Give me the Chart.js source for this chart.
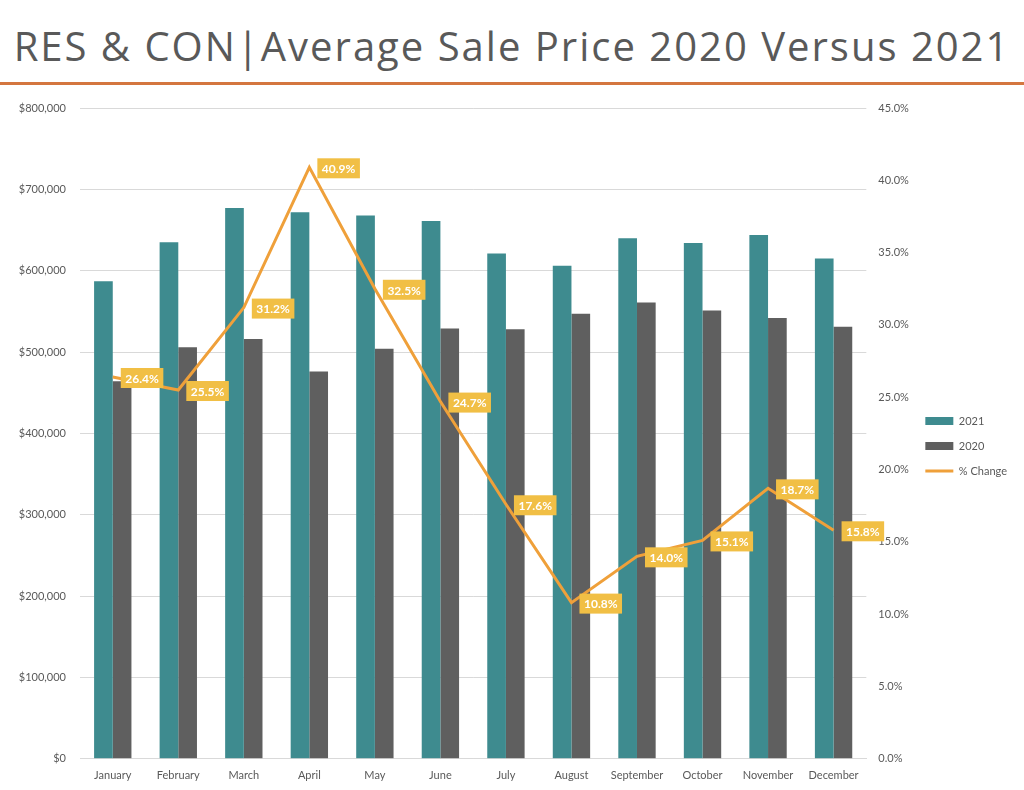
<!DOCTYPE html>
<html lang="en">
<head>
  <meta charset="UTF-8" />
  <title>RES &amp; CON | Average Sale Price 2020 Versus 2021</title>
  <script src="https://cdn.jsdelivr.net/npm/chart.js"></script>
  <style>
    body {
      margin: 0;
      background: #fff;
      width: 1024px;
      height: 790px;
      overflow: hidden;
    }
    .title {
      height: 82px;
      line-height: 92px;
      text-align: center;
      font-family: 'Open Sans', sans-serif;
      font-size: 40px;
      letter-spacing: 2px;
      color: #595959;
      white-space: nowrap;
    }
    .rule {
      height: 3px;
      background: #d4763f;
    }
    .wrap {
      position: relative;
      width: 1024px;
      height: 703px;
    }
  </style>
</head>
<body>
  <div class="title">RES &amp; CON|Average Sale Price 2020 Versus 2021</div>
  <div class="rule"></div>
  <div class="wrap">
    <canvas id="chartPrice"></canvas>
  </div>

  <script>
    const months = ["January", "February", "March", "April", "May", "June",
      "July", "August", "September", "October", "November", "December"];
    const price2021 = [587000, 635000, 677000, 672000, 668000, 661000, 621000, 606000, 640000, 634000, 644000, 615000];
    const price2020 = [464000, 506000, 516000, 476000, 504000, 529000, 528000, 547000, 561000, 551000, 542000, 531000];
    const pctChange = [26.4, 25.5, 31.2, 40.9, 32.5, 24.7, 17.6, 10.8, 14.0, 15.1, 18.7, 15.8];

    const teal = '#3e8b8f';
    const grey = '#5f5f5f';
    const orange = '#efa03a';
    const labelBox = '#f1bf45';
    const axisText = '#595959';

    // yellow boxes with % values, right of each point
    const pctLabels = {
      id: 'pctLabels',
      afterDatasetsDraw(chart) {
        const meta = chart.getDatasetMeta(2);
        const ctx = chart.ctx;
        ctx.save();
        ctx.font = 'bold 12px Lato, sans-serif';
        ctx.textBaseline = 'middle';
        meta.data.forEach((pt, i) => {
          const txt = pctChange[i].toFixed(1) + '%';
          const w = ctx.measureText(txt).width + 9;
          const h = 20;
          const x = pt.x + 8;
          const y = pt.y - 9;
          ctx.fillStyle = labelBox;
          ctx.fillRect(x, y, w, h);
          ctx.fillStyle = '#fff';
          ctx.fillText(txt, x + 4.5, y + h / 2 + 1);
        });
        ctx.restore();
      }
    };

    new Chart(document.getElementById('chartPrice'), {
      type: 'bar',
      data: {
        labels: months,
        datasets: [
          {
            label: '2021',
            data: price2021,
            backgroundColor: teal,
            yAxisID: 'y',
            order: 2,
            pointStyle: 'rect',
            categoryPercentage: 0.57,
            barPercentage: 1.0,
          },
          {
            label: '2020',
            data: price2020,
            backgroundColor: grey,
            yAxisID: 'y',
            order: 3,
            pointStyle: 'rect',
            categoryPercentage: 0.57,
            barPercentage: 1.0,
          },
          {
            type: 'line',
            label: '% Change',
            data: pctChange,
            borderColor: orange,
            backgroundColor: orange,
            borderWidth: 3,
            pointRadius: 0,
            pointStyle: 'line',
            tension: 0,
            yAxisID: 'y1',
            order: 1,
          },
        ],
      },
      options: {
        responsive: true,
        maintainAspectRatio: false,
        animation: false,
        layout: { padding: { top: 23, right: 7, left: 10, bottom: 4 } },
        plugins: {
          legend: {
            position: 'right',
            labels: {
              usePointStyle: true,
              pointStyleWidth: 28,
              boxHeight: 8,
              color: axisText,
              padding: 14,
              font: { family: 'Lato, sans-serif', size: 11 },
              sort: (a, b) => a.datasetIndex - b.datasetIndex,
            },
          },
          tooltip: { enabled: false },
        },
        scales: {
          x: {
            grid: { display: false },
            border: { color: '#d9d9d9' },
            ticks: {
              color: axisText,
              font: { family: 'Lato, sans-serif', size: 11 },
              maxRotation: 0,
              padding: 2,
            },
          },
          y: {
            position: 'left',
            min: 0,
            max: 800000,
            afterFit: (s) => { s.width = 70; },
            ticks: {
              stepSize: 100000,
              color: axisText,
              padding: 14,
              font: { family: 'Lato, sans-serif', size: 11 },
              callback: (v) => '$' + v.toLocaleString('en-US'),
            },
            grid: { color: '#d9d9d9', drawTicks: false },
            border: { display: false },
          },
          y1: {
            position: 'right',
            min: 0,
            max: 45,
            afterFit: (s) => { s.width = 45; },
            ticks: {
              stepSize: 5,
              color: axisText,
              padding: 4,
              font: { family: 'Lato, sans-serif', size: 11 },
              callback: (v) => v.toFixed(1) + '%',
            },
            grid: { display: false },
            border: { display: false },
          },
        },
      },
      plugins: [pctLabels],
    });
  </script>
</body>
</html>
